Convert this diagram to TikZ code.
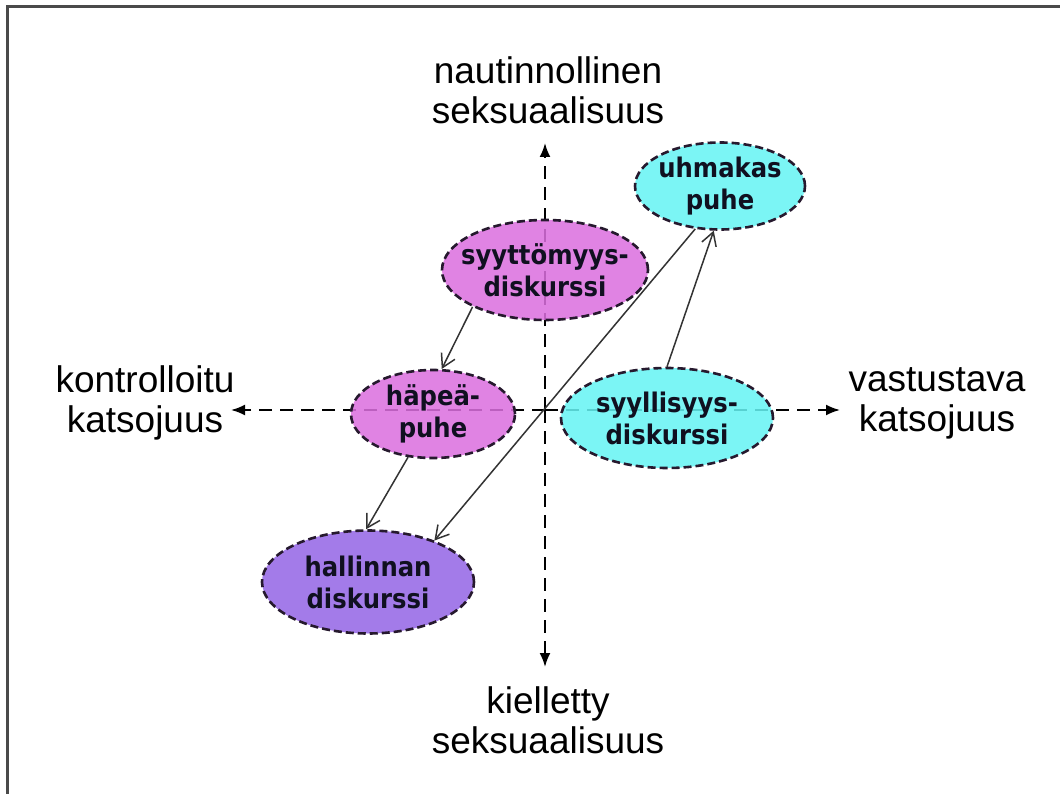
\documentclass[tikz,border=0pt]{standalone}
\usepackage{fontspec}
\setmainfont{Liberation Sans}
\newfontfamily\blobfont[FakeStretch=0.9]{DejaVu Sans}
\usetikzlibrary{shapes.geometric,arrows.meta}

\definecolor{pinkfill}{HTML}{DB6FDF}
\definecolor{cyanfill}{HTML}{66F4F4}
\definecolor{violetfill}{HTML}{9566E6}
\definecolor{rimdark}{HTML}{26192E}
\definecolor{inkdark}{HTML}{101020}
\definecolor{framegray}{HTML}{4A4A4A}

\tikzset{
  axisline/.style={line width=2pt, dash pattern=on 13pt off 8pt, black,
                   -{Latex[length=14pt,width=11pt]}},
  axislabel/.style={font=\fontsize{37}{40}\selectfont, align=center, inner sep=0pt},
  blob/.style={ellipse, draw=rimdark, line width=2.6pt, dash pattern=on 8pt off 4pt,
               fill opacity=0.86, inner sep=0pt},
  blobtext/.style={inner sep=0pt, align=center, text=inkdark,
               font=\blobfont\bfseries\fontsize{27}{32}\selectfont},
  link/.style={line width=1.5pt, draw=black!80,
               -{Straight Barb[length=13pt,width=15pt,line width=1.5pt]}}
}

\begin{document}
\begin{tikzpicture}[x=1pt,y=-1pt]
  \useasboundingbox (0,0) rectangle (1060,794);
  \fill[white] (0,0) rectangle (1060,794);
  % outer frame (open to the right and bottom)
  \draw[framegray, line width=3pt] (7,794) -- (7,7) -- (1060,7);

  % axis ends
  \coordinate (origin) at (545,410);
  \coordinate (top) at (545,143);
  \coordinate (bottom) at (545,667);
  \coordinate (left) at (231,410);
  \coordinate (right) at (840,410);

  \draw[axisline] (origin) -- (top);
  \draw[axisline] (origin) -- (bottom);
  \draw[axisline] (origin) -- (left);
  \draw[axisline] (origin) -- (right);

  % axis labels
  \node[axislabel] (lbltop) at (548,90) {nautinnollinen\\seksuaalisuus};
  \node[axislabel] (lblbottom) at (548,720) {kielletty\\seksuaalisuus};
  \node[axislabel] (lblleft) at (145,403) {kontrolloitu\\katsojuus};
  \node[axislabel] (lblright) at (937,403) {vastustava\\katsojuus};

  % discourses: dashed ellipse with its caption laid on top
  \node[blob, fill=pinkfill, minimum width=206pt, minimum height=100pt,
        label={[blobtext]center:syyttömyys-\\diskurssi}]
    (syyt) at (545,270) {};
  \node[blob, fill=pinkfill, minimum width=164pt, minimum height=88pt,
        label={[blobtext]center:häpeä-\\puhe}]
    (hapea) at (433,414) {};
  \node[blob, fill=cyanfill, minimum width=170pt, minimum height=87pt,
        label={[blobtext]center:uhmakas\\puhe}]
    (uhma) at (720,186) {};
  \node[blob, fill=cyanfill, minimum width=212pt, minimum height=100pt,
        label={[blobtext]center:syyllisyys-\\diskurssi}]
    (syyl) at (667,418) {};
  \node[blob, fill=violetfill, minimum width=212pt, minimum height=103pt,
        label={[blobtext]center:hallinnan\\diskurssi}]
    (hall) at (368,582) {};

  % transitions
  \draw[link] (syyt.207) -- (hapea.79);
  \draw[link] (hapea.240) -- (hall.92);
  \draw[link] (syyl.90) -- (uhma.262);
  \draw[link] (uhma.240) -- (hall.32);
\end{tikzpicture}
\end{document}
